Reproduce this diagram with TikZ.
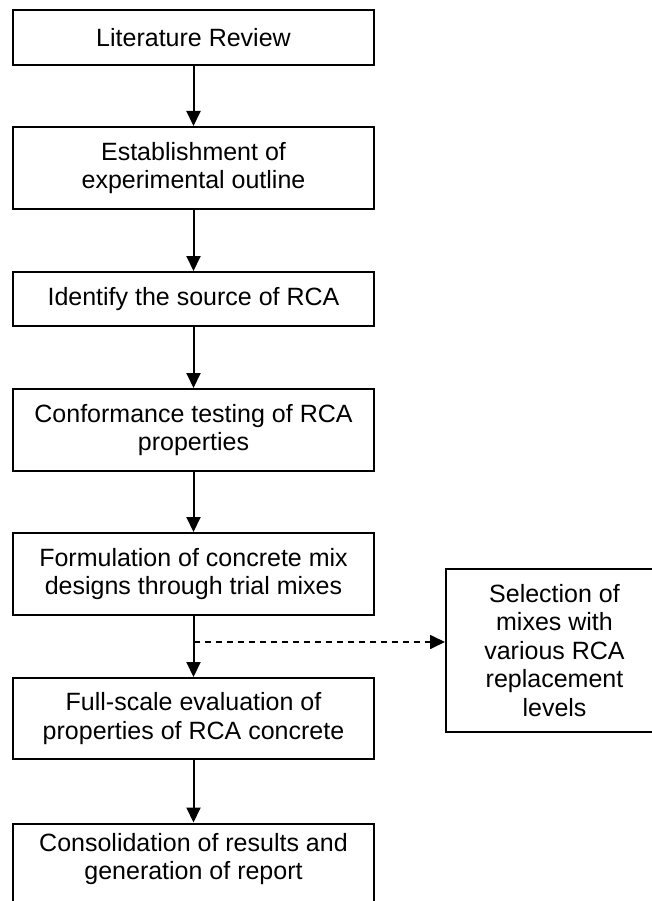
\documentclass[tikz,border=0pt]{standalone}
\usepackage{fontspec}
\setmainfont{Liberation Sans}
\usetikzlibrary{arrows.meta}
\tikzset{
  txt/.style={font=\fontsize{25}{28.5}\selectfont, align=center, inner sep=0pt},
  box/.style={txt, draw, line width=2pt, minimum width=361.5pt},
  rbox/.style={txt, draw, line width=2pt, minimum width=217pt, minimum height=163pt},
  flow/.style={line width=2pt, -{Triangle[width=14pt,length=15pt]}},
  dflow/.style={line width=1.7pt, dash pattern=on 6pt off 5pt, -{Triangle[width=14pt,length=15pt]}}
}
\begin{document}
\begin{tikzpicture}[x=1pt,y=-1pt]
\useasboundingbox (0,0) rectangle (652,901);
\clip (0,0) rectangle (652,901);
\fill[white] (0,0) rectangle (652,901);
\node[box, minimum height=55pt] (b1) at (193.5,37.5) {Literature Review};
\node[box, minimum height=82pt] (b2) at (193.5,168) {Establishment of\\experimental outline};
\node[box, minimum height=54pt] (b3) at (193.5,299) {Identify the source of RCA};
\node[box, minimum height=82pt] (b4) at (193.5,430) {Conformance testing of RCA\\properties};
\node[box, minimum height=82pt] (b5) at (193.5,574) {Formulation of concrete mix\\designs through trial mixes};
\node[box, minimum height=81pt] (b6) at (193.5,718.5) {Full-scale evaluation of\\properties of RCA concrete};
\node[box, anchor=north, minimum height=100pt] (b7) at (193.5,822.5) {};
\node[txt] (b7t) at (193.5,859) {Consolidation of results and\\generation of report};
\node[rbox] (rb) at (554.5,650.5) {Selection of\\mixes with\\various RCA\\replacement\\levels};
\coordinate (dj) at (193.5,642);
\draw[flow] (b1) -- (b2);
\draw[flow] (b2) -- (b3);
\draw[flow] (b3) -- (b4);
\draw[flow] (b4) -- (b5);
\draw[flow] (b5) -- (b6);
\draw[flow] (b6) -- (b7);
\draw[dflow] (dj) -- (dj -| rb.west);
\end{tikzpicture}
\end{document}
